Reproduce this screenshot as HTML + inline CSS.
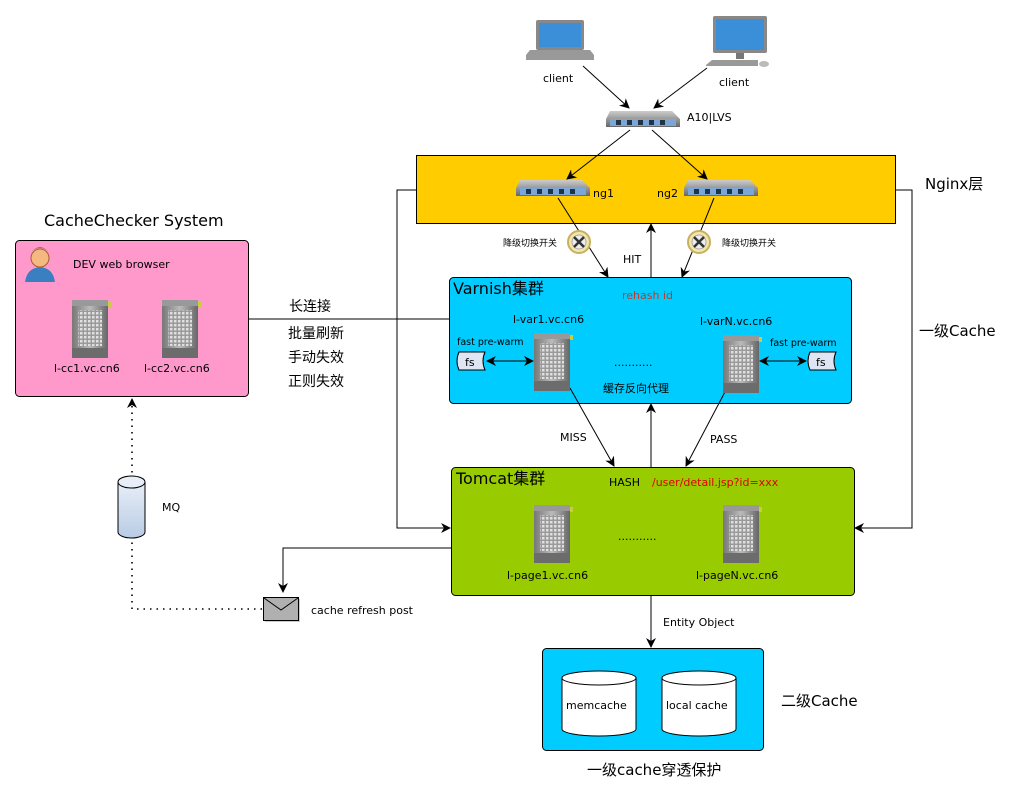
<!DOCTYPE html>
<html><head><meta charset="utf-8"><style>
html,body{margin:0;padding:0;background:#fff}
svg{display:block}
text{font-family:"DejaVu Sans","Liberation Sans","Noto Sans CJK SC",sans-serif;fill:#000}
.s{font-size:11px}
.m{font-size:16px}
</style></head><body>
<svg width="1018" height="796" viewBox="0 0 1018 796" xmlns="http://www.w3.org/2000/svg">
<defs>
<marker id="a" markerWidth="10" markerHeight="10" refX="9" refY="5" orient="auto" markerUnits="userSpaceOnUse"><path d="M0,0 L10,5 L0,10 L3,5 z" fill="#000"/></marker>
<marker id="b" markerWidth="10" markerHeight="10" refX="1" refY="5" orient="auto" markerUnits="userSpaceOnUse"><path d="M10,0 L0,5 L10,10 L7,5 z" fill="#000"/></marker>
<linearGradient id="srv" x1="0" x2="1"><stop offset="0" stop-color="#777"/><stop offset="0.5" stop-color="#bbb"/><stop offset="1" stop-color="#666"/></linearGradient>
<linearGradient id="sw" x1="0" y1="0" x2="0" y2="1"><stop offset="0" stop-color="#ccc"/><stop offset="1" stop-color="#666"/></linearGradient>
<linearGradient id="cy" x1="0" y1="0" x2="0" y2="1"><stop offset="0" stop-color="#e8eef8"/><stop offset="1" stop-color="#b8cce4"/></linearGradient>
<pattern id="grid" width="4" height="4" patternUnits="userSpaceOnUse"><rect width="4" height="4" fill="#9a9a9a"/><rect width="2.5" height="2.5" fill="#e0e0e0"/></pattern>
<g id="server"><rect x="0" y="0" width="36" height="58" fill="url(#srv)"/><rect x="0" y="0" width="36" height="6" fill="#999"/><rect x="6" y="10" width="24" height="36" fill="url(#grid)"/><rect x="0" y="48" width="36" height="10" fill="#6c6c6c"/><rect x="36" y="2" width="3" height="5" fill="#cc4"/></g>
<g id="switch"><path d="M4,0 L66,0 L74,8 L74,16 L0,16 L0,8 z" fill="url(#sw)"/><rect x="4" y="8" width="66" height="7" fill="#7aa7d8"/><g fill="#234"><rect x="10" y="9" width="5" height="5"/><rect x="21" y="9" width="5" height="5"/><rect x="32" y="9" width="5" height="5"/><rect x="43" y="9" width="5" height="5"/><rect x="54" y="9" width="5" height="5"/></g></g>
<g id="sw2"><circle r="11" fill="#f3e6a8" stroke="#c8b060" stroke-width="2"/><circle r="7" fill="#eee" stroke="#aaa"/><path d="M-5,-5 L5,5 M5,-5 L-5,5" stroke="#333" stroke-width="2.5"/></g>
<g id="fs"><path d="M4,0 L30,0 Q26,9 30,18 L4,18 Q0,9 4,0 z" fill="#dde6f2" stroke="#000"/><text x="10" y="14" class="s">fs</text></g>
</defs>

<rect x="416.5" y="155.5" width="479" height="68" fill="#FFCC00" stroke="#000"/>
<rect x="449.5" y="277.5" width="402" height="126" rx="4" fill="#00CCFF" stroke="#000"/>
<rect x="451.5" y="467.5" width="403" height="128" rx="4" fill="#99CC00" stroke="#000"/>
<rect x="542.5" y="648.5" width="221" height="102" rx="4" fill="#00CCFF" stroke="#000"/>
<rect x="15.5" y="240.5" width="233" height="156" rx="4" fill="#FF99CC" stroke="#000"/>

<rect x="536" y="20" width="48" height="30" rx="2" fill="#888"/><rect x="539" y="23" width="42" height="24" fill="#3a8fd8"/>
<path d="M526,55 L530,50 L590,50 L594,55 L594,60 L526,60 z" fill="#999"/>
<text x="543" y="82" class="s">client</text>
<rect x="713" y="16" width="54" height="37" rx="2" fill="#888"/><rect x="716" y="19" width="48" height="31" fill="#3a8fd8"/>
<rect x="736" y="53" width="8" height="6" fill="#777"/><path d="M706,65 L712,60 L758,60 L758,66 L706,66 z" fill="#999"/><ellipse cx="764" cy="64" rx="5" ry="3" fill="#bbb"/>
<text x="719" y="86" class="s">client</text>

<use href="#switch" x="606" y="111"/>
<text x="687" y="121" class="s">A10|LVS</text>
<use href="#switch" x="516" y="180"/>
<text x="593" y="197" class="s">ng1</text>
<use href="#switch" x="684" y="180"/>
<text x="657" y="197" class="s">ng2</text>

<g stroke="#000" fill="none" stroke-width="1">
<line x1="583" y1="66" x2="629" y2="108" marker-end="url(#a)"/>
<line x1="707" y1="68" x2="654" y2="108" marker-end="url(#a)"/>
<line x1="630" y1="130" x2="567" y2="179" marker-end="url(#a)"/>
<line x1="652" y1="130" x2="707" y2="179" marker-end="url(#a)"/>
<line x1="558" y1="198" x2="608" y2="277" marker-end="url(#a)"/>
<line x1="714" y1="198" x2="682" y2="277" marker-end="url(#a)"/>
<line x1="651" y1="277" x2="651" y2="224" marker-end="url(#a)"/>
<line x1="570" y1="388" x2="614" y2="466" marker-end="url(#a)"/>
<line x1="727" y1="388" x2="686" y2="466" marker-end="url(#a)"/>
<line x1="651" y1="467" x2="651" y2="404" marker-end="url(#a)"/>
<polyline points="416,190 397,190 397,528 450,528" marker-end="url(#a)"/>
<polyline points="895,190 912,190 912,528 855,528" marker-end="url(#a)"/>
<polyline points="451,548 283,548 283,592" marker-end="url(#a)"/>
<line x1="651" y1="595" x2="651" y2="647" marker-end="url(#a)"/>
<line x1="248" y1="319" x2="449" y2="319"/>
<line x1="487" y1="361" x2="533" y2="361" marker-start="url(#b)" marker-end="url(#a)"/>
<line x1="760" y1="361" x2="806" y2="361" marker-start="url(#b)" marker-end="url(#a)"/>
<polyline points="262,609 132,609 132,399" stroke-dasharray="1.5,5" stroke-width="1.6" marker-end="url(#a)"/>
</g>

<use href="#sw2" x="579" y="242"/>
<use href="#sw2" x="699" y="242"/>
<text x="503" y="246" style="font-size:9px">降级切换开关</text>
<text x="722" y="246" style="font-size:9px">降级切换开关</text>
<text x="623" y="263" class="s">HIT</text>
<text x="925" y="189" style="font-size:15px">Nginx层</text>
<text x="919" y="336" style="font-size:15px">一级Cache</text>

<text x="453" y="294" class="m">Varnish集群</text>
<text x="622" y="299" class="s" style="fill:#c0392b">rehash id</text>
<text x="513" y="323" class="s">l-var1.vc.cn6</text>
<text x="700" y="325" class="s">l-varN.vc.cn6</text>
<text x="457" y="345" style="font-size:9.5px">fast pre-warm</text>
<text x="770" y="346" style="font-size:9.5px">fast pre-warm</text>
<use href="#fs" x="455" y="352"/>
<use href="#fs" x="806" y="352"/>
<use href="#server" x="534" y="333"/>
<use href="#server" x="723" y="335"/>
<text x="614" y="366" class="s">...........</text>
<text x="603" y="392" style="font-size:11px">缓存反向代理</text>
<text x="560" y="441" class="s">MISS</text>
<text x="710" y="443" class="s">PASS</text>

<text x="456" y="484" class="m">Tomcat集群</text>
<text x="609" y="486" class="s">HASH</text>
<text x="652" y="486" class="s" style="fill:#d00">/user/detail.jsp?id=xxx</text>
<use href="#server" x="534" y="505"/>
<use href="#server" x="723" y="505"/>
<text x="618" y="540" class="s">...........</text>
<text x="507" y="579" class="s">l-page1.vc.cn6</text>
<text x="696" y="579" class="s">l-pageN.vc.cn6</text>
<text x="663" y="626" class="s">Entity Object</text>

<g stroke="#000" fill="#fff">
<path d="M562,678 L562,729 A37,7 0 0 0 636,729 L636,678"/><ellipse cx="599" cy="678" rx="37" ry="7"/>
<path d="M662,678 L662,729 A37,7 0 0 0 736,729 L736,678"/><ellipse cx="699" cy="678" rx="37" ry="7"/>
</g>
<text x="566" y="709" class="s">memcache</text>
<text x="666" y="709" class="s">local cache</text>
<text x="781" y="706" style="font-size:15px">二级Cache</text>
<text x="587" y="775" style="font-size:15px">一级cache穿透保护</text>

<text x="44" y="226" class="m">CacheChecker System</text>
<circle cx="40" cy="258" r="9" fill="#f5b880" stroke="#a06030"/><path d="M30,254 Q40,240 50,254 Q46,248 40,248 Q34,248 30,254z" fill="#a06a3a"/>
<path d="M25,282 Q27,268 40,267 Q53,268 55,282 z" fill="#3a7fc0"/>
<text x="73" y="268" class="s">DEV web browser</text>
<use href="#server" x="72" y="300"/>
<use href="#server" x="162" y="300"/>
<text x="54" y="372" class="s">l-cc1.vc.cn6</text>
<text x="144" y="372" class="s">l-cc2.vc.cn6</text>
<text x="289" y="311" style="font-size:14px">长连接</text>
<text x="288" y="338" style="font-size:14px">批量刷新</text>
<text x="288" y="362" style="font-size:14px">手动失效</text>
<text x="288" y="386" style="font-size:14px">正则失效</text>

<path d="M118,482 L118,532 A13.5,6 0 0 0 145,532 L145,482" fill="url(#cy)" stroke="#000"/>
<ellipse cx="131.5" cy="482" rx="13.5" ry="6" fill="#e8eef8" stroke="#000"/>
<text x="162" y="511" class="s">MQ</text>
<rect x="265" y="599" width="35" height="23" fill="#555" opacity="0.3"/>
<rect x="263.5" y="597.5" width="35" height="23" fill="#b0b0b0" stroke="#000"/>
<polyline points="264,598 281,610 298,598" fill="none" stroke="#000"/>
<text x="311" y="614" class="s">cache refresh post</text>
</svg>
</body></html>
